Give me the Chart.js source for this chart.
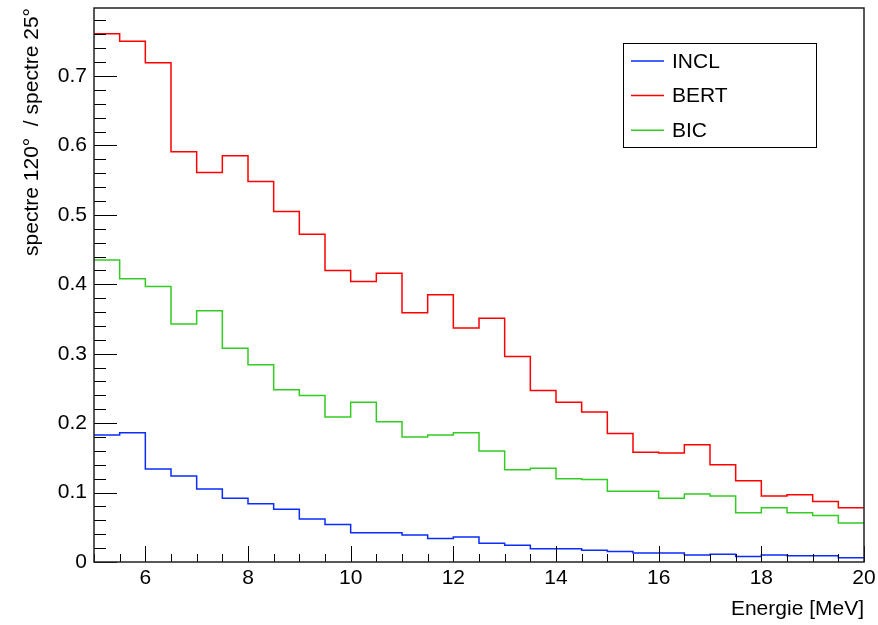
<!DOCTYPE html>
<html>
<head>
<meta charset="utf-8">
<script src="https://cdn.jsdelivr.net/npm/chart.js@4/dist/chart.umd.min.js"></script>
<style>
  html, body { margin: 0; padding: 0; background: #fff; }
  #chart { display: block; }
</style>
</head>
<body>
<canvas id="chart" width="878" height="625"></canvas>
<script>
// bin edges (MeV)
const energies = [5, 5.5, 6, 6.5, 7, 7.5, 8, 8.5, 9, 9.5, 10, 10.5, 11, 11.5, 12, 12.5,
  13, 13.5, 14, 14.5, 15, 15.5, 16, 16.5, 17, 17.5, 18, 18.5, 19, 19.5, 20];

// ratio spectre 120 / spectre 25, one value per bin
const incl = [0.183, 0.186, 0.134, 0.124, 0.105, 0.092, 0.084, 0.076, 0.062, 0.054,
  0.042, 0.042, 0.039, 0.034, 0.036, 0.027, 0.024, 0.019, 0.019, 0.017,
  0.015, 0.013, 0.013, 0.010, 0.011, 0.008, 0.010, 0.009, 0.009, 0.006];
const bert = [0.761, 0.750, 0.719, 0.591, 0.561, 0.585, 0.548, 0.505, 0.472, 0.420,
  0.404, 0.416, 0.359, 0.385, 0.337, 0.351, 0.296, 0.247, 0.230, 0.216,
  0.185, 0.158, 0.157, 0.169, 0.140, 0.117, 0.095, 0.097, 0.087, 0.078];
const bic = [0.435, 0.408, 0.397, 0.343, 0.362, 0.308, 0.284, 0.248, 0.240, 0.209,
  0.230, 0.202, 0.180, 0.183, 0.186, 0.160, 0.133, 0.135, 0.120, 0.119,
  0.102, 0.102, 0.092, 0.098, 0.095, 0.071, 0.078, 0.071, 0.067, 0.056];

const xTickValues = [6, 8, 10, 12, 14, 16, 18, 20];
const yTickValues = [0, 0.1, 0.2, 0.3, 0.4, 0.5, 0.6, 0.7];

const FONT = "'Liberation Sans', Arial, Helvetica, sans-serif";

// histogram -> stepped points (value holds to the right of each edge)
function histPoints(vals) {
  const pts = vals.map((v, i) => ({ x: energies[i], y: v }));
  pts.push({ x: energies[energies.length - 1], y: vals[vals.length - 1] });
  return pts;
}

// ROOT style frame, inward ticks and legend box
const rootStyle = {
  id: 'rootStyle',
  afterDatasetsDraw(chart) {
    const { ctx, chartArea: a, scales: { x, y } } = chart;
    ctx.save();
    ctx.strokeStyle = '#000';
    ctx.lineWidth = 1;
    ctx.beginPath();
    // x ticks: minor at each bin edge, major at labels
    energies.forEach((e) => {
      const px = Math.round(x.getPixelForValue(e)) + 0.5;
      const len = xTickValues.includes(e) ? 16 : 8;
      ctx.moveTo(px, a.bottom);
      ctx.lineTo(px, a.bottom - len);
    });
    // y ticks: minor every 0.02
    for (let k = 0; k * 0.02 <= y.max + 1e-9; k++) {
      const v = k * 0.02;
      const py = Math.round(y.getPixelForValue(v)) + 0.5;
      const len = k % 5 === 0 ? 23 : 12;
      ctx.moveTo(a.left, py);
      ctx.lineTo(a.left + len, py);
    }
    ctx.stroke();

    // frame
    ctx.lineWidth = 1.5;
    ctx.strokeStyle = '#222';
    ctx.strokeRect(a.left, a.top, a.right - a.left, a.bottom - a.top);

    // legend
    const box = { l: 623.5, t: 43.5, r: 816.5, b: 147.5 };
    ctx.fillStyle = '#fff';
    ctx.fillRect(box.l, box.t, box.r - box.l, box.b - box.t);
    ctx.lineWidth = 1;
    ctx.strokeStyle = '#000';
    ctx.strokeRect(box.l, box.t, box.r - box.l, box.b - box.t);
    ctx.font = '21px ' + FONT;
    ctx.textBaseline = 'middle';
    ctx.textAlign = 'left';
    chart.data.datasets.forEach((ds, i) => {
      const cy = 61 + i * 34.6;
      ctx.strokeStyle = ds.borderColor;
      ctx.lineWidth = 1.5;
      ctx.beginPath();
      ctx.moveTo(631, cy);
      ctx.lineTo(664, cy);
      ctx.stroke();
      ctx.fillStyle = '#000';
      ctx.fillText(ds.label, 672, cy + 1);
    });
    ctx.restore();
  }
};

function noPad(s) {
  s.paddingTop = 0;
  s.paddingBottom = 0;
  s.paddingLeft = 0;
  s.paddingRight = 0;
}

new Chart(document.getElementById('chart'), {
  type: 'line',
  data: {
    datasets: [
      { label: 'INCL', data: histPoints(incl), borderColor: '#0a2cff' },
      { label: 'BERT', data: histPoints(bert), borderColor: '#ff0000' },
      { label: 'BIC', data: histPoints(bic), borderColor: '#33cc22' }
    ]
  },
  options: {
    responsive: false,
    animation: false,
    parsing: false,
    layout: { padding: { top: 8, right: 14, left: 0, bottom: 0 } },
    elements: {
      line: { stepped: true, borderWidth: 1.5, tension: 0, fill: false },
      point: { radius: 0, hoverRadius: 0 }
    },
    plugins: {
      legend: { display: false },
      tooltip: { enabled: false }
    },
    scales: {
      x: {
        type: 'linear',
        min: 5,
        max: 20,
        afterBuildTicks: (s) => { s.ticks = xTickValues.map((v) => ({ value: v })); },
        afterFit: (s) => { s.height = 63; noPad(s); },
        grid: { display: false, drawTicks: false, tickLength: 0 },
        border: { display: false },
        ticks: {
          color: '#000',
          padding: 4,
          maxRotation: 0,
          autoSkip: false,
          font: { family: FONT, size: 21 },
          callback: (v) => String(v)
        },
        title: {
          display: true,
          text: 'Energie [MeV]',
          align: 'end',
          color: '#000',
          padding: { top: 0, bottom: 3 },
          font: { family: FONT, size: 21 }
        }
      },
      y: {
        min: 0,
        max: 0.798,
        afterBuildTicks: (s) => { s.ticks = yTickValues.map((v) => ({ value: v })); },
        afterFit: (s) => { s.width = 94; noPad(s); },
        grid: { display: false, drawTicks: false, tickLength: 0 },
        border: { display: false },
        ticks: {
          color: '#000',
          padding: 7,
          autoSkip: false,
          font: { family: FONT, size: 21 },
          callback: (v) => (v === 0 ? '0' : v.toFixed(1))
        },
        title: {
          display: true,
          text: 'spectre 120°  / spectre 25°',
          align: 'end',
          color: '#000',
          padding: { top: 20, bottom: 0 },
          font: { family: FONT, size: 21 }
        }
      }
    }
  },
  plugins: [rootStyle]
});
</script>
</body>
</html>
